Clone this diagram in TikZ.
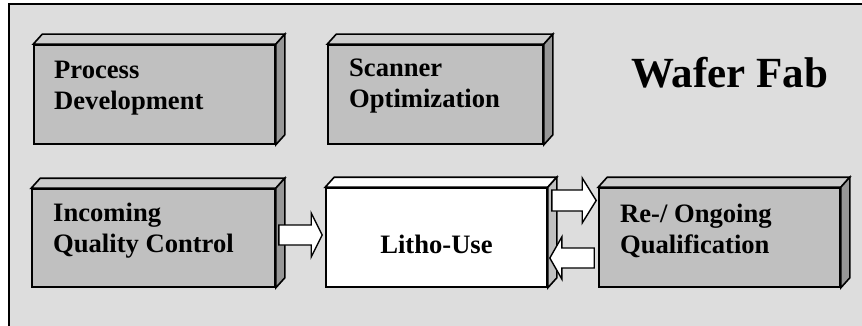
\documentclass[tikz,border=0pt]{standalone}
\usepackage{fontspec}
\setmainfont{Liberation Serif}
\usetikzlibrary{calc}
\definecolor{fabbg}{HTML}{DDDDDD}
\definecolor{frontc}{HTML}{C0C0C0}
\definecolor{topc}{HTML}{CDCDCD}
\definecolor{sidec}{HTML}{979797}
\tikzset{
  outl/.style={draw=black, line width=1.6pt},
  front/.style={outl, rectangle, inner sep=0pt},
  lbl/.style={font=\bfseries\fontsize{26.6}{31}\selectfont, align=left, inner sep=0pt, anchor=base west},
  blockarrow/.style={draw=black, line width=1.4pt, fill=white},
}
\newcommand\cubebox[8]{% name, x1, y1, x2, y2, front, top, side
  \node[front, fill=#6, minimum width={#4-#2}, minimum height={#5-#3}] (#1) at ({(#2+#4)/2},{(#3+#5)/2}) {};
  \filldraw[outl, fill=#7] (#1.north west) -- ++(9,-10) -- ($(#1.north east)+(9,-10)$) -- (#1.north east) -- cycle;
  \filldraw[outl, fill=#8] (#1.north east) -- ++(9,-10) -- ($(#1.south east)+(9,-10)$) -- (#1.south east) -- cycle;
}
\begin{document}
\begin{tikzpicture}[x=1pt,y=-1pt]
\useasboundingbox (0,0) rectangle (862,326);
\clip (0,0) rectangle (862,326);
\fill[white] (0,0) rectangle (862,326);
\filldraw[draw=black, line width=2pt, fill=fabbg] (9,4) rectangle (900,360);

\cubebox{pd}{34}{45}{275}{144}{frontc}{topc}{sidec}
\cubebox{so}{328}{45}{543}{144}{frontc}{topc}{sidec}
\cubebox{iqc}{32}{189}{275}{287}{frontc}{topc}{sidec}
\cubebox{litho}{326}{188}{547}{287}{white}{white}{frontc}
\cubebox{rq}{599}{188}{840}{287}{frontc}{topc}{sidec}

% base anchor = baseline of the last line
\node[lbl] (tpd) at (54,110) {Process\\Development};
\node[lbl] (tso) at (349,108) {Scanner\\Optimization};
\node[lbl] (tiqc) at (53,252) {Incoming\\Quality Control};
\node[lbl] (trq) at (620,253) {Re-/ Ongoing\\Qualification};
\node[font=\bfseries\fontsize{26.6}{31}\selectfont, inner sep=0pt, anchor=base] (tlitho) at (litho.center |- 0,253) {Litho-Use};
\node[font=\bfseries\fontsize{43}{50}\selectfont, inner sep=0pt, anchor=base west] (wf) at (631,88) {Wafer Fab};

% arrow Incoming -> Litho
\coordinate (a1s) at ($(iqc.east |- 0,235)+(3,0)$);
\coordinate (a1e) at ($(litho.west |- 0,235)+(-3,0)$);
\draw[blockarrow] ($(a1s)+(0,-10)$) -- ($(a1e)+(-11,-10)$) -- ($(a1e)+(-11,-22)$) -- (a1e)
  -- ($(a1e)+(-11,22)$) -- ($(a1e)+(-11,10)$) -- ($(a1s)+(0,10)$) -- cycle;

% arrow Litho -> Re-/Ongoing
\coordinate (a2s) at ($(litho.east |- 0,200.5)+(4,0)$);
\coordinate (a2e) at ($(rq.west |- 0,200.5)+(-2,0)$);
\draw[blockarrow] ($(a2s)+(0,-10.5)$) -- ($(a2e)+(-14,-10.5)$) -- ($(a2e)+(-14,-22.5)$) -- (a2e)
  -- ($(a2e)+(-14,22.5)$) -- ($(a2e)+(-14,10.5)$) -- ($(a2s)+(0,10.5)$) -- cycle;

% arrow Re-/Ongoing -> Litho
\coordinate (a3s) at ($(rq.west |- 0,258)+(-4,0)$);
\coordinate (a3e) at ($(litho.east |- 0,258)+(2,0)$);
\draw[blockarrow] ($(a3s)+(0,-10)$) -- ($(a3e)+(12,-10)$) -- ($(a3e)+(12,-21)$) -- (a3e)
  -- ($(a3e)+(12,21)$) -- ($(a3e)+(12,10)$) -- ($(a3s)+(0,10)$) -- cycle;
\end{tikzpicture}
\end{document}
